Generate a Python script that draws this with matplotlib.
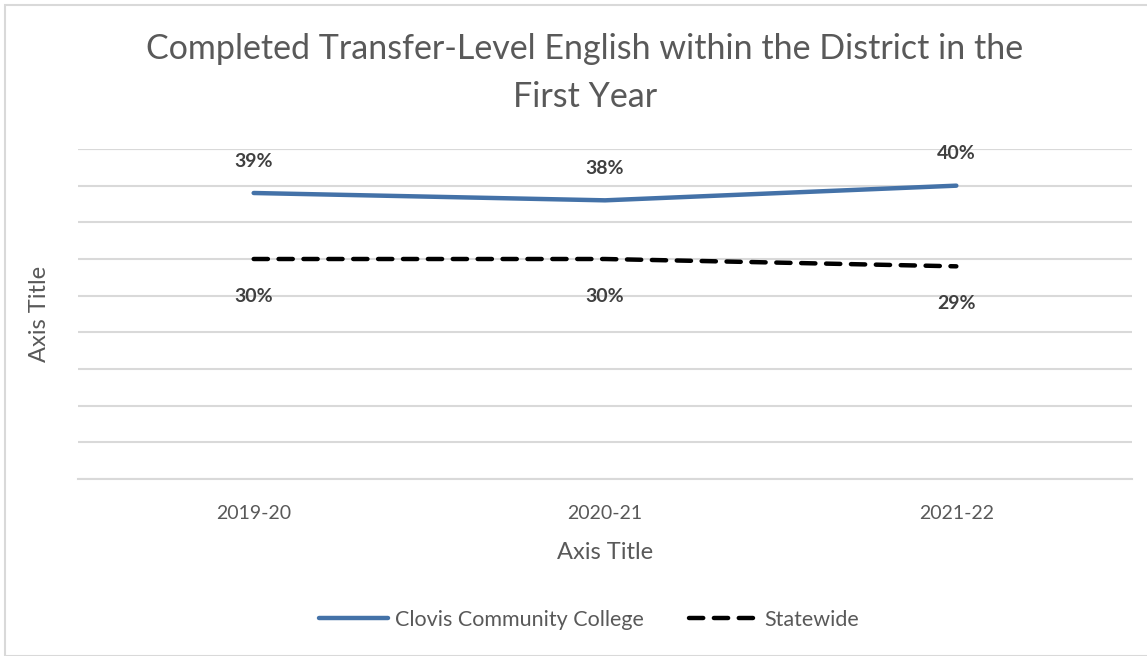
import matplotlib.pyplot as plt
from matplotlib.patches import Rectangle

plt.rcParams["font.family"] = ["Lato", "DejaVu Sans"]

years = ["2019-20", "2020-21", "2021-22"]
clovis = [0.39, 0.38, 0.40]
statewide = [0.30, 0.30, 0.29]
y_ticks = [0.05 * i for i in range(10)]

TEXT = "#595959"
LABEL = "#404040"

fig = plt.figure(figsize=(11.47, 6.56), dpi=100)
ax = fig.add_axes([78 / 1147, 1 - 479 / 656, (1132 - 78) / 1147, (479 - 149) / 656])

x = range(len(years))
ax.plot(x, clovis, color="#4472a8", linewidth=3.2, solid_capstyle="round",
        label="Clovis Community College", zorder=3)
ax.plot(x, statewide, color="black", linewidth=3.2, linestyle=(0, (3.2, 2.4)),
        dash_capstyle="round", label="Statewide", zorder=3)

# value labels: above the college line, below the statewide line
for i, v in enumerate(clovis):
    ax.annotate(f"{v:.0%}", (i, v), xytext=(0, 23), textcoords="offset points",
                ha="center", va="center", fontsize=14, fontweight="bold", color=LABEL)
for i, v in enumerate(statewide):
    ax.annotate(f"{v:.0%}", (i, v), xytext=(0, -27), textcoords="offset points",
                ha="center", va="center", fontsize=14, fontweight="bold", color=LABEL)

ax.set_xlim(-0.5, 2.5)
ax.set_ylim(0, 0.45)
ax.set_yticks(y_ticks)
ax.set_yticklabels([])
ax.tick_params(axis="y", length=0)
ax.tick_params(axis="x", length=0, pad=19, labelsize=14, labelcolor=TEXT)
ax.set_xticks(list(x))
ax.set_xticklabels(years)
ax.grid(axis="y", color="#d9d9d9", linewidth=1.5)
ax.axhline(0.45, color="#d9d9d9", linewidth=1.5, zorder=0)
for side in ["top", "right", "left"]:
    ax.spines[side].set_visible(False)
ax.spines["bottom"].set_color("#d9d9d9")
ax.spines["bottom"].set_linewidth(1.5)

ax.set_xlabel("Axis Title", fontsize=17, color=TEXT, labelpad=14)
ax.set_ylabel("Axis Title", fontsize=17, color=TEXT, labelpad=17)

fig.text(585 / 1147, 1 - 73 / 656, "Completed Transfer-Level English within the District in the\nFirst Year",
         ha="center", va="center", fontsize=24.5, color=TEXT, linespacing=1.6)

fig.legend(loc="center", bbox_to_anchor=(589 / 1147, 1 - 620 / 656), ncol=2, frameon=False,
           fontsize=15.5, labelcolor=TEXT, handlelength=3.2, columnspacing=2.1, handletextpad=0.3)

fig.patches.append(Rectangle((5 / 1147, 0), 1, 1 - 5 / 656, transform=fig.transFigure,
                             fill=False, edgecolor="#d9d9d9", linewidth=1.5))

fig.savefig("out.png", dpi=100)
